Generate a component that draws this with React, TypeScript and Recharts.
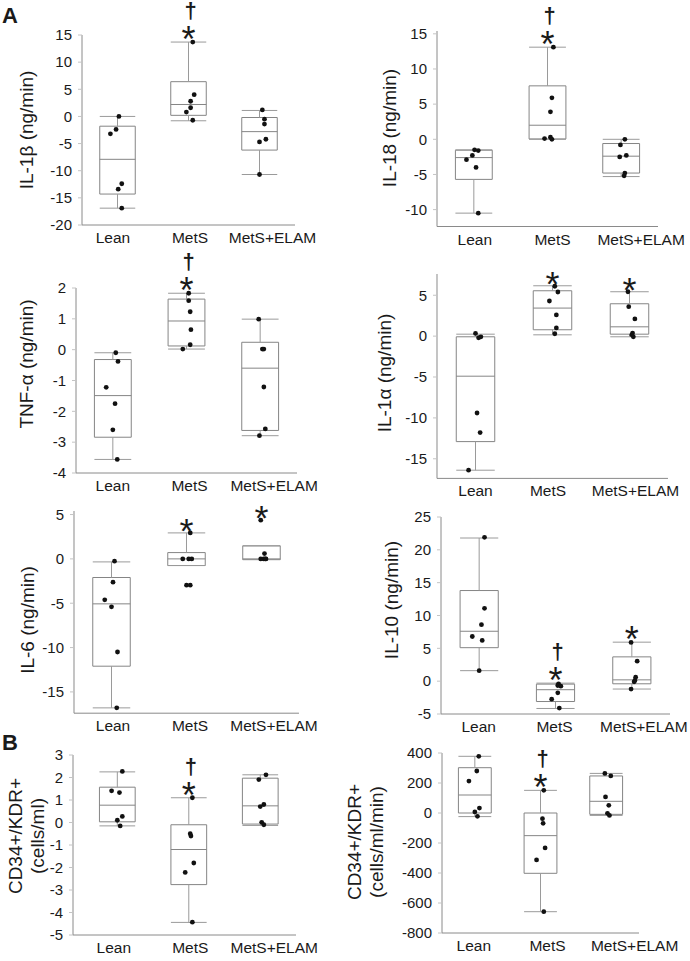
import React from "react";
import { ComposedChart, XAxis, YAxis, Scatter, ReferenceArea, ReferenceLine, ReferenceDot } from "recharts";

const GROUPS = ["Lean", "MetS", "MetS+ELAM"];

// box summaries per group: [min, q1, median, q3, max]
// dots per group, and horizontal jitter (in category units)
const il1bBoxes = [[-16.9, -14.3, -7.9, -1.8, 0], [-0.8, 0.2, 2.2, 6.4, 13.7], [-10.7, -6.2, -2.8, -0.2, 1.1]];
const il1bDots = [[0, -2.4, -3.2, -12.4, -13.4, -16.9], [13.7, 4.0, 2.8, 1.6, 0.8, -0.7], [1.2, -0.5, -1.4, -4.2, -4.7, -10.7]];
const il1bJitter = [[0.02, -0.02, -0.1, 0.06, 0.01, 0.06], [0.06, 0.08, 0.03, 0.03, -0.03, 0.06], [0.04, 0.07, 0.07, 0.09, 0, 0]];

const il18Boxes = [[-10.5, -5.7, -2.6, -1.55, -1.5], [0, 0.05, 2.0, 7.6, 13.1], [-5.3, -4.8, -2.4, -0.6, 0]];
const il18Dots = [[-1.5, -1.6, -2.3, -2.9, -4.0, -10.5], [13.1, 5.9, 3.9, 0.1, 0.3, 0], [0, -0.8, -2.5, -2.3, -4.8, -5.2]];
const il18Jitter = [[0.01, 0.06, -0.02, -0.1, 0.03, 0.06], [0.08, 0.06, 0.04, -0.04, 0.04, 0.06], [0.05, -0.01, -0.02, 0.07, 0.05, 0.04]];

const tnfBoxes = [[-3.56, -2.84, -1.49, -0.32, -0.1], [0.02, 0.12, 0.93, 1.64, 1.83], [-2.79, -2.62, -0.6, 0.24, 0.99]];
const tnfDots = [[-0.1, -0.38, -1.22, -1.75, -2.6, -3.56], [1.83, 1.59, 1.23, 0.65, 0.16, 0.02], [0.99, 0.02, 0.02, -1.21, -2.57, -2.79]];
const tnfJitter = [[0.04, 0.07, -0.09, 0.03, 0, 0.06], [0.03, 0.03, 0.05, 0.06, 0.05, -0.05], [-0.02, 0.03, 0.05, 0.05, 0.07, -0.01]];

const il1aBoxes = [[-16.4, -12.9, -4.9, -0.08, 0.24], [0.16, 0.78, 3.43, 5.55, 6.16], [-0.08, 0.24, 1.14, 3.96, 5.43]];
const il1aDots = [[0.33, -0.2, -0.08, -9.4, -11.8, -16.4], [6.1, 5.4, 4.3, 2.6, 1.0, 0.29], [5.43, 3.6, 2.1, 0.37, 0.16, -0.08]];
const il1aJitter = [[0, 0.04, 0.07, 0.02, 0.06, -0.09], [0.03, 0.07, -0.04, 0.05, 0.05, 0.03], [-0.02, -0.01, 0.07, 0.04, 0.03, 0.05]];

const il6Boxes = [[-16.8, -12.1, -5.07, -2.1, -0.34], [-0.75, -0.75, 0, 0.71, 2.93], [-0.08, -0.08, 0, 1.47, 1.47]];
const il6Dots = [[-0.26, -2.63, -4.62, -5.41, -10.5, -16.8], [2.93, 0, 0, 0, -2.97, -2.97], [4.36, 0.6, 0, 0, 0, 0]];
const il6Jitter = [[0.04, 0.02, -0.09, 0, 0.08, 0.07], [0.05, -0.05, 0.03, 0.07, 0, 0.05], [-0.01, 0.04, -0.01, 0.03, 0.06, 0.05]];

const il10Boxes = [[1.6, 5.1, 7.6, 13.8, 21.8], [-4.16, -3.1, -1.3, -0.45, -0.3], [-1.2, -0.4, 0.2, 3.7, 5.94]];
const il10Dots = [[21.9, 11.1, 8.6, 6.8, 6.2, 1.6], [-0.4, -0.66, -0.76, -1.78, -2.74, -4.1], [5.9, 3.05, 0.6, 0.1, -0.1, -1.2]];
const il10Jitter = [[0.07, 0.07, 0.03, -0.09, 0.04, 0], [0.04, 0.03, 0.07, 0.03, -0.05, 0.05], [-0.01, 0.07, 0.05, 0.04, 0.03, -0.01]];

const epcBoxes = [[-0.15, 0.03, 0.77, 1.57, 2.25], [-4.44, -2.76, -1.2, -0.1, 1.1], [-0.13, -0.07, 0.74, 1.97, 2.12]];
const epcDots = [[2.27, 1.41, 1.33, 0.1, 0.27, -0.15], [1.1, -0.5, -0.6, -1.8, -2.22, -4.43], [2.12, 1.91, 0.8, 0.71, 0.01, -0.1]];
const epcJitter = [[0.07, -0.08, 0.03, 0, 0.07, 0.04], [0.05, 0.02, 0.03, 0.07, -0.05, 0.05], [0.08, -0.02, 0.05, 0, 0.02, 0.05]];

const epcRateBoxes = [[-24, 0, 120, 302, 378], [-658, -402, -151, 0, 151], [-16, -9, 78, 247, 264]];
const epcRateDots = [[378, 280, 213, 33, 7, -22], [151, -38, -69, -233, -313, -658], [264, 247, 107, 51, -2, -16]];
const epcRateJitter = [[0.06, 0.03, -0.09, 0.07, 0, 0.04], [0.05, 0.03, 0.04, 0.07, -0.06, 0.05], [-0.02, 0.07, -0.01, 0.04, 0.02, 0.05]];

// significance marks (group indexes)
const starsMetS = [1];
const starsBoth = [1, 2];
const daggerMetS = [1];

const FONT = '"Liberation Sans", Arial, Helvetica, sans-serif';
const INK = "#1a1a1a";
const AXIS = "#8a8a8a";
const BOX = "#858585";
const WHISK = "#9a9a9a";
const HALF = 0.25;
const MT = 40;
const MR = 40;
const XH = 32;

type PanelProps = {
  left: number; x0: number; x1: number; y0: number; y1: number;
  xDomain: [number, number]; yDomain: [number, number]; yTicks: number[];
  boxes: number[][]; dots: number[][]; jitter: number[][];
  stars: number[]; daggers: number[]; labelShift: number[];
};

function Panel(p: PanelProps) {
  const width = p.x1 - p.left + MR;
  const height = MT + (p.y1 - p.y0) + XH;
  const pts = p.dots.flatMap((vals, g) => vals.map((y, i) => ({ x: g + 1 + p.jitter[g][i], y })));
  const tops = p.boxes.map((b, g) => Math.max(b[4], ...p.dots[g]));
  const renderTick = (t: any) => {
    const idx = Math.round(t.payload.value) - 1;
    return (
      <text x={t.x + p.labelShift[idx]} y={t.y} dy="0.71em" textAnchor="middle" fontSize={15.5} fill={INK} fontFamily={FONT}>
        {GROUPS[idx]}
      </text>
    );
  };
  return (
    <div style={{ position: "absolute", left: p.left, top: p.y0 - MT }}>
      <ComposedChart width={width} height={height} margin={{ top: MT, right: MR, bottom: 0, left: 0 }}>
        <XAxis
          type="number" dataKey="x" domain={p.xDomain} ticks={[1, 2, 3]} interval={0}
          tickLine={false} tickSize={6} tickMargin={1}
          axisLine={{ stroke: AXIS }} height={XH} tick={renderTick}
        />
        <YAxis
          type="number" dataKey="y" domain={p.yDomain} ticks={p.yTicks} interval={0}
          width={p.x0 - p.left} tickSize={4} tickMargin={6}
          tickLine={{ stroke: "#c4c4c4" }} axisLine={{ stroke: AXIS }}
          tick={{ fill: INK, fontSize: 15, fontFamily: FONT }}
        />
        {p.boxes.map((b, g) => {
          const c = g + 1;
          return (
            <React.Fragment key={g}>
              <ReferenceLine segment={[{ x: c, y: b[3] }, { x: c, y: b[4] }]} stroke={WHISK} />
              <ReferenceLine segment={[{ x: c, y: b[0] }, { x: c, y: b[1] }]} stroke={WHISK} />
              <ReferenceLine segment={[{ x: c - HALF, y: b[4] }, { x: c + HALF, y: b[4] }]} stroke={WHISK} />
              <ReferenceLine segment={[{ x: c - HALF, y: b[0] }, { x: c + HALF, y: b[0] }]} stroke={WHISK} />
              <ReferenceArea x1={c - HALF} x2={c + HALF} y1={b[1]} y2={b[3]} fill="none" fillOpacity={0} stroke={BOX} strokeOpacity={1} />
              <ReferenceLine segment={[{ x: c - HALF, y: b[2] }, { x: c + HALF, y: b[2] }]} stroke={BOX} />
            </React.Fragment>
          );
        })}
        <Scatter
          data={pts} isAnimationActive={false}
          shape={(s: any) => <circle cx={s.cx} cy={s.cy} r={2.4} fill="#111" />}
        />
        {p.stars.map((g) => (
          <ReferenceDot
            key={"s" + g} x={g + 1} y={tops[g]} r={0} ifOverflow="visible"
            shape={(s: any) => (
              <text x={s.cx} y={s.cy - 10} dy="0.55em" textAnchor="middle" fontSize={36} fill={INK} fontFamily={FONT}>*</text>
            )}
          />
        ))}
        {p.daggers.map((g) => (
          <ReferenceDot
            key={"d" + g} x={g + 1} y={tops[g]} r={0} ifOverflow="visible"
            shape={(s: any) => (
              <text x={s.cx + 2} y={s.cy - 30.5} dy="0.29em" textAnchor="middle" fontSize={22} fontWeight="bold" fill={INK} fontFamily={FONT}>†</text>
            )}
          />
        ))}
      </ComposedChart>
    </div>
  );
}

function Title({ lines, x, y }: { lines: string[]; x: number; y: number }) {
  return (
    <div
      style={{
        position: "absolute", left: x, top: y, transform: "translate(-50%, -50%) rotate(-90deg)",
        whiteSpace: "nowrap", textAlign: "center", fontSize: 19, lineHeight: "22px", fontFamily: FONT, color: INK,
      }}
    >
      {lines.map((l, i) => (
        <div key={i}>{l}</div>
      ))}
    </div>
  );
}

export default function App() {
  return (
    <div style={{ position: "absolute", left: 0, top: 0, width: 690, height: 961, background: "#fff", fontFamily: FONT, overflow: "hidden" }}>
      <div style={{ position: "absolute", left: 2, top: 5, fontSize: 22, lineHeight: 1, fontWeight: "bold", color: INK }}>A</div>
      <div style={{ position: "absolute", left: 2, top: 732, fontSize: 22, lineHeight: 1, fontWeight: "bold", color: INK }}>B</div>

      <Panel left={0} x0={82} x1={295} y0={35} y1={225} xDomain={[0.5, 3.5]} yDomain={[-20, 15]}
        yTicks={[-20, -15, -10, -5, 0, 5, 10, 15]} boxes={il1bBoxes} dots={il1bDots} jitter={il1bJitter}
        stars={starsMetS} daggers={daggerMetS} labelShift={[-4.5, 1.5, 13]} />
      <Title lines={["IL-1β (ng/min)"]} x={27} y={130} />

      <Panel left={345} x0={437} x1={658} y0={30.5} y1={226} xDomain={[0.5, 3.5]} yDomain={[-12.4, 15.4]}
        yTicks={[-10, -5, 0, 5, 10, 15]} boxes={il18Boxes} dots={il18Dots} jitter={il18Jitter}
        stars={starsMetS} daggers={daggerMetS} labelShift={[1, 5, 20]} />
      <Title lines={["IL-18 (ng/min)"]} x={390} y={128} />

      <Panel left={0} x0={76} x1={297} y0={288} y1={473} xDomain={[0.5, 3.5]} yDomain={[-4, 2]}
        yTicks={[-4, -3, -2, -1, 0, 1, 2]} boxes={tnfBoxes} dots={tnfDots} jitter={tnfJitter}
        stars={starsMetS} daggers={daggerMetS} labelShift={[0, 3, 14]} />
      <Title lines={["TNF-α (ng/min)"]} x={27} y={364} />

      <Panel left={345} x0={437} x1={668} y0={273.6} y1={478} xDomain={[0.5, 3.5]} yDomain={[-17.4, 7.6]}
        yTicks={[-15, -10, -5, 0, 5]} boxes={il1aBoxes} dots={il1aDots} jitter={il1aJitter}
        stars={starsBoth} daggers={[]} labelShift={[0, -4.5, 6]} />
      <Title lines={["IL-1α (ng/min)"]} x={385} y={373} />

      <Panel left={0} x0={74} x1={299} y0={511.4} y1={713.6} xDomain={[0.5, 3.5]} yDomain={[-17.4, 5.4]}
        yTicks={[-15, -10, -5, 0, 5]} boxes={il6Boxes} dots={il6Dots} jitter={il6Jitter}
        stars={starsBoth} daggers={[]} labelShift={[1.5, 3.5, 12.5]} />
      <Title lines={["IL-6 (ng/min)"]} x={28} y={620} />

      <Panel left={345} x0={441} x1={670} y0={516.5} y1={713.5} xDomain={[0.5, 3.5]} yDomain={[-5, 25]}
        yTicks={[-5, 0, 5, 10, 15, 20, 25]} boxes={il10Boxes} dots={il10Dots} jitter={il10Jitter}
        stars={starsBoth} daggers={daggerMetS} labelShift={[-0.5, -1, 12]} />
      <Title lines={["IL-10 (ng/min)"]} x={392} y={600} />

      <Panel left={0} x0={73} x1={296} y0={755} y1={935} xDomain={[0.38, 3.5]} yDomain={[-5, 3]}
        yTicks={[-5, -4, -3, -2, -1, 0, 1, 2, 3]} boxes={epcBoxes} dots={epcDots} jitter={epcJitter}
        stars={starsMetS} daggers={daggerMetS} labelShift={[-3.5, 1.5, 14]} />
      <Title lines={["CD34+/KDR+", "(cells/ml)"]} x={27} y={836} />

      <Panel left={345} x0={442} x1={639} y0={753.3} y1={933.3} xDomain={[0.5, 3.5]} yDomain={[-800, 400]}
        yTicks={[-800, -600, -400, -200, 0, 200, 400]} boxes={epcRateBoxes} dots={epcRateDots} jitter={epcRateJitter}
        stars={starsMetS} daggers={daggerMetS} labelShift={[-1, 7, 28.5]} />
      <Title lines={["CD34+/KDR+", "(cells/ml/min)"]} x={366} y={842} />
    </div>
  );
}
